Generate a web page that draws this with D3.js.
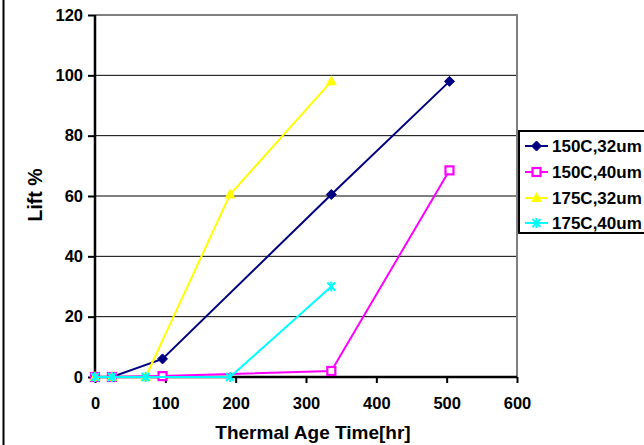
<!DOCTYPE html>
<html>
<head>
<meta charset="utf-8">
<script src="https://cdn.jsdelivr.net/npm/d3@7"></script>
<style>
  html, body { margin: 0; padding: 0; background: #fff; overflow: hidden; }
  svg { display: block; font-family: Arial, "Liberation Sans", sans-serif; }
</style>
</head>
<body>
<svg id="chart" width="644" height="445"></svg>
<script>
// ---- data ----
const seriesNames = ["150C,32um", "150C,40um", "175C,32um", "175C,40um"];
const hours150_32 = [0, 24, 96, 336, 504];
const lift150_32  = [0, 0, 6, 60.5, 98];
const hours150_40 = [0, 24, 96, 336, 504];
const lift150_40  = [0, 0, 0.3, 2, 68.5];
const hours175_32 = [0, 24, 72, 192, 336];
const lift175_32  = [0, 0, 0, 60.5, 98];
const hours175_40 = [0, 24, 72, 192, 336];
const lift175_40  = [0, 0, 0, 0, 30];
const xTicks = [0, 100, 200, 300, 400, 500, 600];
const yTicks = [0, 20, 40, 60, 80, 100, 120];
const xTitle = "Thermal Age Time[hr]";
const yTitle = "Lift %";

const colors = ["#000080", "#FF00FF", "#FFFF00", "#00FFFF"];
const markers = ["diamond", "square", "triangle", "star"];

const series = [
  {name: seriesNames[0], x: hours150_32, y: lift150_32},
  {name: seriesNames[1], x: hours150_40, y: lift150_40},
  {name: seriesNames[2], x: hours175_32, y: lift175_32},
  {name: seriesNames[3], x: hours175_40, y: lift175_40}
];

const svg = d3.select("#chart");
const L = 95, R = 517, T = 15, B = 377;
const x = d3.scaleLinear().domain([0, 600]).range([L, R]);
const y = d3.scaleLinear().domain([0, 120]).range([B, T]);

// outer left border
svg.append("line").attr("x1", 3.5).attr("x2", 3.5).attr("y1", 0).attr("y2", 445)
  .attr("stroke", "#000").attr("stroke-width", 2);

// gridlines
svg.append("g").selectAll("line").data(yTicks.filter(d => d > 0 && d < 120)).join("line")
  .attr("x1", L).attr("x2", R).attr("y1", d => y(d)).attr("y2", d => y(d))
  .attr("stroke", "#000").attr("stroke-width", 1);

// plot frame top/right in gray
svg.append("path").attr("d", `M${L},${T}H${R}V${B}`).attr("fill", "none")
  .attr("stroke", "#808080").attr("stroke-width", 2);

// axes
const yAxis = d3.axisLeft(y).tickValues(yTicks).tickSize(7).tickPadding(5).tickFormat(d3.format("d"));
const gy = svg.append("g").attr("transform", `translate(${L},0)`).call(yAxis);
const xAxis = d3.axisBottom(x).tickValues(xTicks).tickSize(6).tickPadding(14).tickFormat(d3.format("d"));
const gx = svg.append("g").attr("transform", `translate(0,${B})`).call(xAxis);
[gx, gy].forEach(g => {
  g.select(".domain").attr("stroke", "#000").attr("stroke-width", 2.5);
  g.selectAll(".tick line").attr("stroke", "#000").attr("stroke-width", 2);
  g.selectAll(".tick text").attr("fill", "#000").attr("font-size", 16.5).attr("font-weight", "bold")
    .attr("font-family", "Arial, 'Liberation Sans', sans-serif");
});
gx.select(".domain").attr("d", `M${L},0H${R}`);
gy.select(".domain").attr("d", `M0,${T}V${B}`);

// titles
svg.append("text").attr("x", 313).attr("y", 438.5).attr("text-anchor", "middle")
  .attr("font-size", 19).attr("font-weight", "bold").text(xTitle);
svg.append("text").attr("transform", "translate(42,195) rotate(-90)").attr("text-anchor", "middle")
  .attr("font-size", 19.5).attr("font-weight", "bold").text(yTitle);

function drawMarker(g, type, color, cx, cy) {
  if (type === "diamond") {
    g.append("path").attr("d", `M${cx},${cy-5}L${cx+5},${cy}L${cx},${cy+5}L${cx-5},${cy}Z`)
      .attr("fill", color).attr("stroke", color).attr("stroke-width", 1);
  } else if (type === "square") {
    g.append("rect").attr("x", cx-4).attr("y", cy-4).attr("width", 8).attr("height", 8)
      .attr("fill", "#fff").attr("stroke", color).attr("stroke-width", 2.2);
  } else if (type === "triangle") {
    g.append("path").attr("d", `M${cx},${cy-6}L${cx+5.5},${cy+4}L${cx-5.5},${cy+4}Z`)
      .attr("fill", color);
  } else {
    g.append("path").attr("d", `M${cx-4},${cy-4}L${cx+4},${cy+4}M${cx+4},${cy-4}L${cx-4},${cy+4}M${cx},${cy-5}V${cy+5}`)
      .attr("stroke", color).attr("stroke-width", 2);
  }
}

// series
const line = d3.line().x(d => x(d[0])).y(d => y(d[1]));
series.forEach((s, i) => {
  const pts = s.x.map((v, j) => [v, s.y[j]]);
  const g = svg.append("g");
  g.append("path").attr("d", line(pts)).attr("fill", "none").attr("stroke", colors[i]).attr("stroke-width", 2);
  pts.forEach(p => drawMarker(g, markers[i], colors[i], x(p[0]), y(p[1])));
});

// legend
const lg = svg.append("g");
lg.append("rect").attr("x", 519).attr("y", 131).attr("width", 140).attr("height", 102)
  .attr("fill", "#fff").attr("stroke", "#000").attr("stroke-width", 2);
const legY = [146, 172, 198, 223];
series.forEach((s, i) => {
  lg.append("line").attr("x1", 525).attr("x2", 548).attr("y1", legY[i]).attr("y2", legY[i])
    .attr("stroke", colors[i]).attr("stroke-width", 2);
  drawMarker(lg, markers[i], colors[i], 536.5, legY[i]);
  lg.append("text").attr("x", 552).attr("y", legY[i] + 6).attr("font-size", 17)
    .attr("font-weight", "bold").text(s.name);
});
</script>
</body>
</html>
